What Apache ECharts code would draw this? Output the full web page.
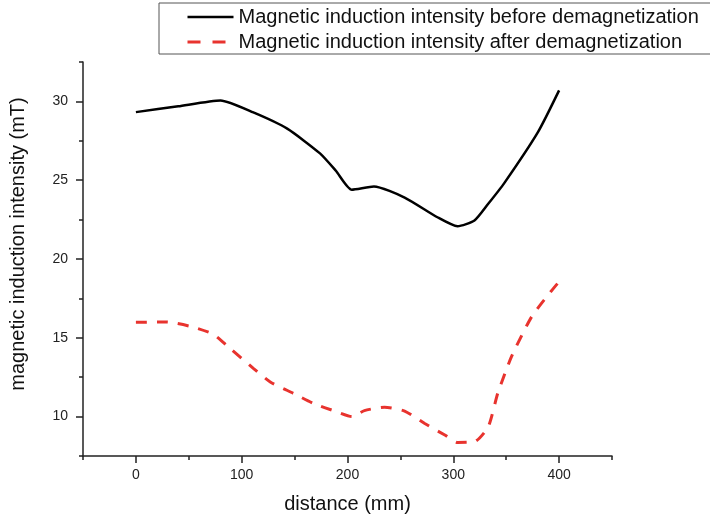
<!DOCTYPE html>
<html>
<head>
<meta charset="utf-8">
<script src="https://cdn.jsdelivr.net/npm/echarts@6/dist/echarts.min.js"></script>
<style>
    html, body { margin: 0; padding: 0; background: #fff; }
    #chart { width: 710px; height: 522px; }
</style>
</head>
<body>
<div id="chart"></div>
<script>
    // 退磁前 (before) - distance / value
    var beforeX = [0, 40, 80, 111, 143, 174, 189, 204, 225, 254, 285, 304, 320, 333, 348, 380, 400];
    var beforeY = [29.32, 29.69, 30.06, 29.3, 28.27, 26.7, 25.6, 24.4, 24.6, 23.9, 22.65, 22.08, 22.44, 23.5, 24.8, 28.05, 30.7];
    // 退磁后 (after)
    var afterX = [0, 29, 53, 73, 89, 111, 127, 149, 168, 190, 204, 216, 235, 254, 273, 292, 304, 320, 333, 342, 355, 374, 393, 400];
    var afterY = [15.98, 16.0, 15.7, 15.23, 14.33, 13.06, 12.2, 11.47, 10.83, 10.3, 10.0, 10.38, 10.6, 10.35, 9.56, 8.83, 8.36, 8.4, 9.35, 11.47, 13.8, 16.33, 18.0, 18.56];

    var xMajor = [0, 100, 200, 300, 400];
    var xMinor = [-50, 50, 150, 250, 350, 450];
    var yMajor = [10, 15, 20, 25, 30];
    var yMinor = [7.5, 12.5, 17.5, 22.5, 27.5, 32.5];

    var nameBefore = 'Magnetic induction intensity before demagnetization';
    var nameAfter = 'Magnetic induction intensity after demagnetization';

    function pairs(xs, ys) {
        var out = [];
        for (var i = 0; i < xs.length; i++) out.push([xs[i], ys[i]]);
        return out;
    }

    var font = 'Liberation Sans, Arial, sans-serif';
    var axisColor = '#222';

    var myChart = echarts.init(document.getElementById('chart'));
    var option = {
        backgroundColor: '#fff',
        animation: false,
        textStyle: { fontFamily: font },
        grid: { left: 83, right: 98, top: 62, bottom: 66 },
        legend: {
            orient: 'vertical',
            left: 159,
            top: 3,
            padding: [4, 15, 2, 27],
            itemGap: 5,
            itemWidth: 46,
            itemHeight: 14,
            borderColor: '#555',
            borderWidth: 1,
            textStyle: { fontSize: 20, lineHeight: 20, color: '#111', fontFamily: font },
            data: [
                { name: nameBefore, itemStyle: { opacity: 0 }, lineStyle: { width: 2.5 } },
                { name: nameAfter, itemStyle: { opacity: 0 }, lineStyle: { type: [13, 12], width: 3 } }
            ]
        },
        xAxis: [{
            type: 'value',
            min: -50,
            max: 450,
            name: 'distance (mm)',
            nameLocation: 'middle',
            nameGap: 38,
            nameTextStyle: { fontSize: 20, color: '#111' },
            axisLine: { show: true, onZero: false, lineStyle: { color: axisColor, width: 1.5 } },
            axisTick: { show: true, length: 7, customValues: xMajor, lineStyle: { color: axisColor, width: 1.5 } },
            axisLabel: { customValues: xMajor, fontSize: 14, color: '#222', margin: 12 },
            splitLine: { show: false }
        }, {
            type: 'value',
            position: 'bottom',
            min: -50,
            max: 450,
            axisLine: { show: false, onZero: false },
            axisTick: { show: true, length: 4, customValues: xMinor, lineStyle: { color: axisColor, width: 1.5 } },
            axisLabel: { show: false },
            splitLine: { show: false }
        }],
        yAxis: [{
            type: 'value',
            min: 7.5,
            max: 32.5,
            name: 'magnetic induction intensity (mT)',
            nameLocation: 'middle',
            nameGap: 55,
            nameTextStyle: { fontSize: 20, color: '#111', padding: [0, 0, 0, 30] },
            axisLine: { show: true, onZero: false, lineStyle: { color: axisColor, width: 1.5 } },
            axisTick: { show: true, length: 7, customValues: yMajor, lineStyle: { color: axisColor, width: 1.5 } },
            axisLabel: { customValues: yMajor, fontSize: 14, color: '#222', margin: 15 },
            splitLine: { show: false }
        }, {
            type: 'value',
            position: 'left',
            min: 7.5,
            max: 32.5,
            axisLine: { show: false, onZero: false },
            axisTick: { show: true, length: 4, customValues: yMinor, lineStyle: { color: axisColor, width: 1.5 } },
            axisLabel: { show: false },
            splitLine: { show: false }
        }],
        series: [{
            name: nameBefore,
            type: 'line',
            data: pairs(beforeX, beforeY),
            smooth: 0.2,
            symbol: 'none',
            color: '#000',
            lineStyle: { color: '#000', width: 2.5 }
        }, {
            name: nameAfter,
            type: 'line',
            data: pairs(afterX, afterY),
            smooth: 0.2,
            symbol: 'none',
            color: '#e8332e',
            lineStyle: { color: '#e8332e', width: 3, type: [11, 10] }
        }]
    };
    myChart.setOption(option);
</script>
</body>
</html>
